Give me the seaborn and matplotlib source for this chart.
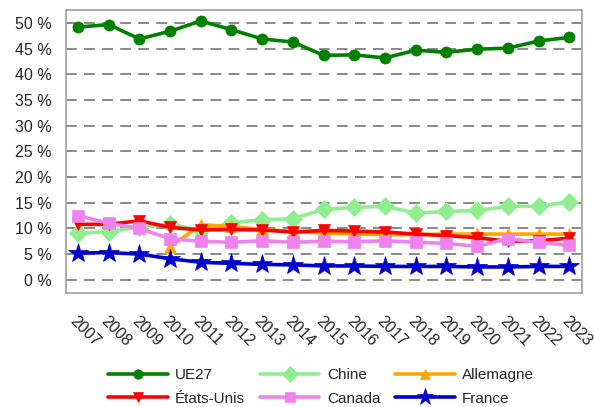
import matplotlib
matplotlib.use("Agg")
import matplotlib.pyplot as plt
import seaborn as sns
import numpy as np
import pandas as pd

years = list(range(2007, 2024))
ue27 = [49.2, 49.7, 46.9, 48.4, 50.4, 48.7, 46.9, 46.3, 43.7, 43.8, 43.2, 44.7, 44.3, 44.9, 45.1, 46.5, 47.2]
chine = [9.1, 9.4, 10.2, 10.8, 9.6, 11.1, 11.7, 11.9, 13.7, 14.1, 14.3, 13.0, 13.3, 13.5, 14.3, 14.3, 15.2]
allemagne = [np.nan, np.nan, np.nan, 6.4, 10.7, 10.4, 9.8, 9.4, 9.1, 8.9, 8.8, 8.8, 8.9, 8.9, 8.9, 8.9, 8.9]
etats_unis = [10.8, 10.8, 11.5, 10.2, 9.7, 9.8, 9.7, 9.3, 9.6, 9.5, 9.3, 8.9, 8.6, 8.2, 7.5, 7.6, 8.1]
canada = [12.5, 11.0, 10.0, 8.0, 7.5, 7.3, 7.6, 7.3, 7.5, 7.4, 7.6, 7.3, 7.1, 6.5, 8.0, 7.3, 6.7]
france = [5.2, 5.3, 5.0, 4.1, 3.4, 3.2, 3.0, 2.9, 2.7, 2.7, 2.6, 2.6, 2.6, 2.5, 2.5, 2.6, 2.6]

series = [
    ("UE27", ue27, "#008000", "o", 8),
    ("Chine", chine, "#90EE90", "D", 9),
    ("Allemagne", allemagne, "#FFA500", "^", 8),
    ("États-Unis", etats_unis, "#FF0000", "v", 8),
    ("Canada", canada, "#EE82EE", "s", 8),
    ("France", france, "#0000CD", "*", 15),
]

sns.set_style("white")
plt.rcParams['font.family'] = ['Liberation Sans', 'DejaVu Sans']

fig = plt.figure(figsize=(5.94, 4.07), dpi=100)
ax = fig.add_axes([0.1106, 0.281, 0.979 - 0.1106, 0.975 - 0.281])

for name, vals, col, mk, ms in series:
    df = pd.DataFrame({"year": years, "val": vals})
    sns.lineplot(data=df, x="year", y="val", ax=ax, color=col, marker=mk,
                 markersize=ms, linewidth=2.6, markeredgewidth=0.5,
                 markeredgecolor=col, label=name)

ax.set_xlim(2006.6, 2023.4)
ax.set_ylim(-2.5, 52.5)
ax.set_yticks(range(0, 51, 5))
ax.set_yticklabels([f"{v} %" for v in range(0, 51, 5)], fontsize=11.5)
ax.set_xticks(years)
ax.set_xticklabels([str(y) for y in years], rotation=-45, ha='left', va='top',
                   rotation_mode='anchor', fontsize=11.5)
ax.set_xlabel("")
ax.set_ylabel("")
ax.yaxis.grid(True, color="#808080", linestyle=(0, (6, 4)), linewidth=1.3)
ax.set_axisbelow(True)
for s in ax.spines.values():
    s.set_color("#A6A6A6")
    s.set_linewidth(1.3)
ax.tick_params(axis='x', length=6, width=1.3, color="#A6A6A6", pad=9)
ax.tick_params(axis='y', length=7, width=1.3, color="#808080", pad=3)

handles, labels = ax.get_legend_handles_labels()
order = [0, 3, 1, 4, 2, 5]
ax.legend([handles[i] for i in order], [labels[i] for i in order],
          loc="upper left", bbox_to_anchor=(0.082, -0.268), ncol=3, frameon=False,
          fontsize=11, handlelength=3.9, columnspacing=0.95, handletextpad=0.5,
          labelspacing=0.62, borderaxespad=0, borderpad=0, markerscale=0.85)

fig.savefig("out.png", dpi=100)
